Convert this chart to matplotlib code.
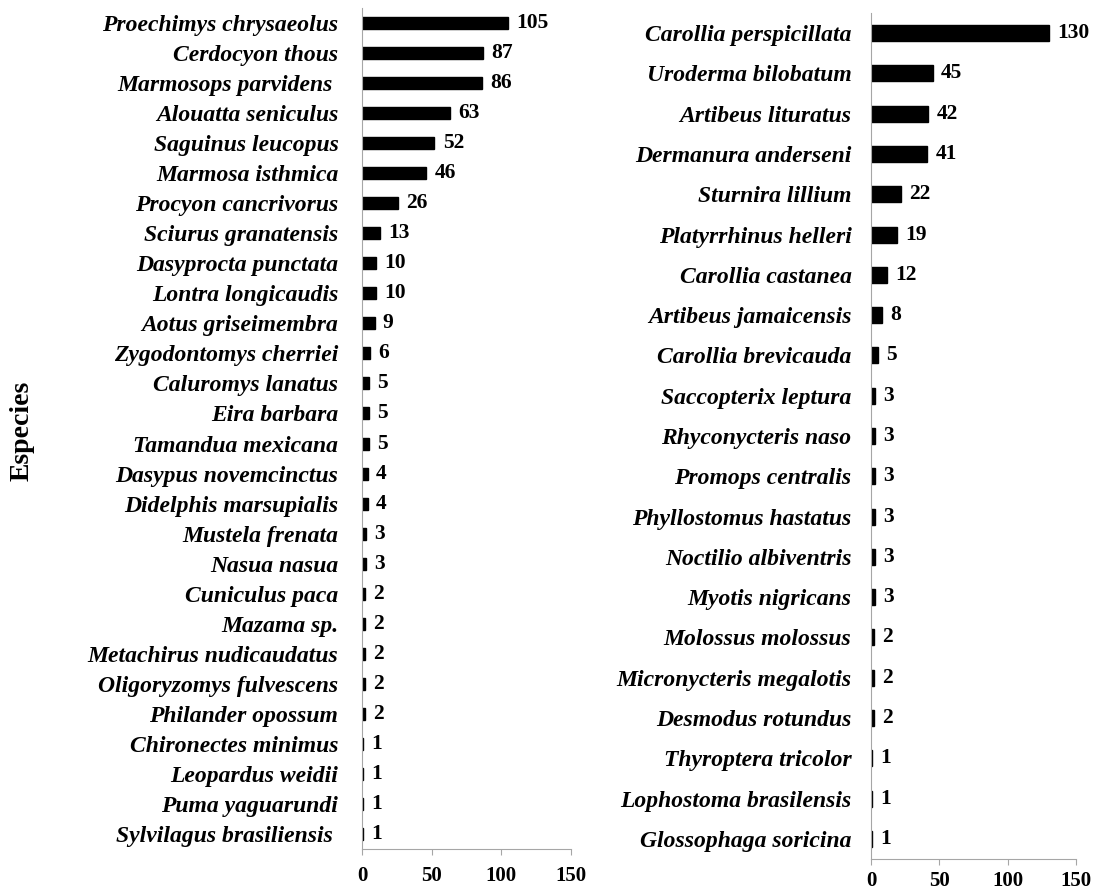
import matplotlib as mpl
mpl.use('Agg')
import matplotlib.pyplot as plt

# mammals (non-flying)
left_species = ["Proechimys chrysaeolus", "Cerdocyon thous", "Marmosops parvidens ",
                "Alouatta seniculus", "Saguinus leucopus", "Marmosa isthmica",
                "Procyon cancrivorus", "Sciurus granatensis", "Dasyprocta punctata",
                "Lontra longicaudis", "Aotus griseimembra", "Zygodontomys cherriei",
                "Caluromys lanatus", "Eira barbara", "Tamandua mexicana",
                "Dasypus novemcinctus", "Didelphis marsupialis", "Mustela frenata",
                "Nasua nasua", "Cuniculus paca", "Mazama sp.", "Metachirus nudicaudatus",
                "Oligoryzomys fulvescens", "Philander opossum", "Chironectes minimus",
                "Leopardus weidii", "Puma yaguarundi", "Sylvilagus brasiliensis "]
left_counts = [105, 87, 86, 63, 52, 46, 26, 13, 10, 10, 9, 6, 5, 5, 5,
               4, 4, 3, 3, 2, 2, 2, 2, 2, 1, 1, 1, 1]

# bats
right_species = ["Carollia perspicillata", "Uroderma bilobatum", "Artibeus lituratus",
                 "Dermanura anderseni", "Sturnira lillium", "Platyrrhinus helleri",
                 "Carollia castanea", "Artibeus jamaicensis", "Carollia brevicauda",
                 "Saccopterix leptura", "Rhyconycteris naso", "Promops centralis",
                 "Phyllostomus hastatus", "Noctilio albiventris", "Myotis nigricans",
                 "Molossus molossus", "Micronycteris megalotis", "Desmodus rotundus",
                 "Thyroptera tricolor", "Lophostoma brasilensis", "Glossophaga soricina"]
right_counts = [130, 45, 42, 41, 22, 19, 12, 8, 5, 3, 3, 3, 3, 3, 3,
                2, 2, 2, 1, 1, 1]

xticks = [0, 50, 100, 150]

plt.rcParams['font.family'] = ['Liberation Serif', 'DejaVu Serif']
W, H = 1097, 890
fig = plt.figure(figsize=(W / 100, H / 100), dpi=100)

def panel(rect, names, counts, ypad, xpad):
    ax = fig.add_axes(rect)
    y = list(range(len(names)))
    ax.barh(y, counts, height=0.4, color='black', edgecolor='black', linewidth=1)
    ax.set_ylim(len(names) - 0.5, -0.5)
    ax.set_xlim(0, 150)
    ax.set_yticks(y)
    ax.set_yticklabels(names, fontsize=17, fontweight='bold', style='italic')
    ax.set_xticks(xticks)
    ax.set_xticklabels([str(t) for t in xticks], fontsize=15, fontweight='bold')
    ax.tick_params(axis='y', length=0, pad=ypad)
    ax.tick_params(axis='x', length=4, color='#a6a6a6', pad=xpad)
    for s in ['top', 'right']:
        ax.spines[s].set_visible(False)
    for s in ['left', 'bottom']:
        ax.spines[s].set_color('#a6a6a6')
    for yi, c in zip(y, counts):
        ax.annotate(str(c), (c, yi), xytext=(6, 0), textcoords='offset points',
                    va='center', ha='left', fontsize=15.5, fontweight='bold')
    return ax

panel([362 / W, 1 - 849 / H, 209 / W, 841 / H], left_species, left_counts, 17, 8)
panel([871 / W, 1 - 859 / H, 205 / W, 846 / H], right_species, right_counts, 14, 4.5)

fig.text(22 / W, 1 - 431 / H, "Especies", rotation=90, va='center', ha='center',
         fontsize=20, fontweight='bold')

fig.savefig("out.png", dpi=100)
